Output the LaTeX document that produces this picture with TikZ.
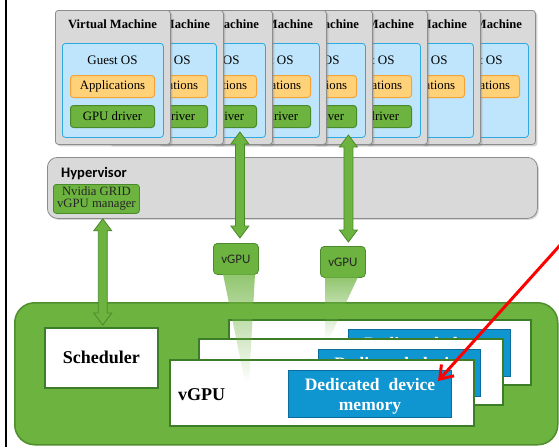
\documentclass[tikz,border=0pt]{standalone}
\usepackage{fontspec}
\setmainfont{Liberation Serif}
\newfontfamily\califont{Carlito}
\usetikzlibrary{shadows,fadings,arrows.meta,calc}
\definecolor{vmgray}{HTML}{D9D9D9}
\definecolor{vmborder}{HTML}{8C8C8C}
\definecolor{osblue}{HTML}{BEE5FB}
\definecolor{osborder}{HTML}{2EA8E0}
\definecolor{appfill}{HTML}{FFD27A}
\definecolor{appborder}{HTML}{F5A236}
\definecolor{grfill}{HTML}{6DB33F}
\definecolor{grborder}{HTML}{4B8A2B}
\definecolor{bigborder}{HTML}{4E8E2D}
\definecolor{stackborder}{HTML}{3E7D27}
\definecolor{memfill}{HTML}{0F95D0}
\definecolor{memborder}{HTML}{0C6C9C}
\tikzfading[name=beamfade, top color=transparent!25, bottom color=transparent!100]
\newcommand\vdarrow[5]{%
\draw[garrow] let \p1=(#1), \p2=(#2) in
 (\x2+#3, \y1-#4) -- (\x2+#3+9pt, \y1-#4-12pt) -- (\x2+#3+4.5pt, \y1-#4-12pt)
 -- (\x2+#3+4.5pt, \y2+#5+12pt) -- (\x2+#3+9pt, \y2+#5+12pt) -- (\x2+#3, \y2+#5)
 -- (\x2+#3-9pt, \y2+#5+12pt) -- (\x2+#3-4.5pt, \y2+#5+12pt)
 -- (\x2+#3-4.5pt, \y1-#4-12pt) -- (\x2+#3-9pt, \y1-#4-12pt) -- cycle;}
\begin{document}
\begin{tikzpicture}[x=1pt,y=-1pt,
  nw/.style={anchor=north west, inner sep=0pt},
  vmbox/.style={nw, draw=vmborder, fill=vmgray, rounded corners=3pt, line width=0.8pt,
    minimum width=115pt, minimum height=134pt,
    drop shadow={shadow xshift=2pt,shadow yshift=-2pt,opacity=0.35}},
  vmtitle/.style={anchor=base, inner sep=0pt, font=\bfseries\fontsize{12.6}{14}\selectfont},
  gostxt/.style={anchor=base, inner sep=0pt, font=\fontsize{13}{14}\selectfont},
  osbox/.style={nw, draw=osborder, fill=osblue, rounded corners=3pt, line width=0.8pt,
    minimum width=101pt, minimum height=94pt},
  appbox/.style={nw, draw=appborder, fill=appfill, rounded corners=3pt, line width=1pt,
    minimum width=84pt, minimum height=22pt, font=\fontsize{12.8}{14}\selectfont},
  drvbox/.style={nw, draw=grborder, fill=grfill, rounded corners=3pt, line width=1pt,
    minimum width=84pt, minimum height=22pt, font=\fontsize{12.8}{14}\selectfont},
  hypbox/.style={nw, draw=vmborder, fill=vmgray, rounded corners=10pt, line width=0.8pt,
    minimum width=490pt, minimum height=61pt,
    drop shadow={shadow xshift=1.5pt,shadow yshift=-1.5pt,opacity=0.3}},
  mgrbox/.style={nw, draw=grborder, fill=grfill, rounded corners=3pt, line width=0.8pt,
    minimum width=86pt, minimum height=29pt},
  vgbox/.style={nw, draw=grborder, fill=grfill, rounded corners=4pt, line width=0.8pt,
    minimum width=45pt, minimum height=31pt, text=black!85,
    font=\califont\fontsize{13}{14}\selectfont},
  bigbox/.style={nw, draw=bigborder, fill=grfill, rounded corners=20pt, line width=1.5pt,
    minimum width=543pt, minimum height=142pt},
  schedbox/.style={nw, draw=stackborder, fill=white, line width=1.5pt,
    minimum width=113pt, minimum height=60pt, font=\bfseries\fontsize{18}{20}\selectfont},
  stackbox/.style={nw, draw=stackborder, fill=white, line width=1.5pt},
  membox/.style={nw, draw=memborder, fill=memfill, line width=1pt,
    minimum width=162pt, minimum height=47pt},
  memtext/.style={inner sep=0pt, align=center, text=white,
    font=\bfseries\fontsize{17.5}{20}\selectfont},
  garrow/.style={fill=grfill, draw=grborder, line width=0.8pt, line join=miter},
  redarrow/.style={draw=red, line width=3pt, -{Straight Barb[length=12pt,width=17pt]}}
]
\useasboundingbox (0,0) rectangle (559,447);
\fill[white] (0,0) rectangle (559,447);
\draw[line width=2pt] (6,0) -- (6,447);

% virtual machines, right to left so the left one is on top
\foreach \i/\l/\d in {8/420/0,7/365/0,6/312/1,5/257/1,4/211/1,3/157/1,2/108/1,1/55/1}{
  \node[vmbox] (vm\i) at (\l,10) {};
  \node[vmtitle] (vmt\i) at (\l+57.5,28.3) {Virtual Machine};
  \node[osbox] (os\i) at (\l+7,43) {};
  \node[gostxt] (gos\i) at (\l+57.5,64) {Guest OS};
  \node[appbox] (app\i) at (\l+15,75) {Applications};
  \ifnum\d=1 \node[drvbox] (drv\i) at (\l+15,105) {GPU driver};\fi
}

% hypervisor
\node[hypbox] (hyp) at (47,157) {};
\node[anchor=base west, inner sep=0pt, font=\califont\bfseries\fontsize{14.5}{16}\selectfont]
  (hyptxt) at (61,177) {Hypervisor};
\node[mgrbox] (mgr) at (53,184) {};
\node[inner sep=0pt, align=center, text=black!85, font=\fontsize{12.7}{11.3}\selectfont]
  (mgrtxt) at ([yshift=0.5pt]mgr.center) {Nvidia GRID\\vGPU manager};

% vGPU boxes
\node[vgbox] (vgpu1) at (213,243) {vGPU};
\node[vgbox] (vgpu2) at (320,246) {vGPU};

% physical GPU
\node[bigbox] (gpu) at (14,302) {};
\node[schedbox] (sched) at (44,327) {Scheduler};

\node[stackbox, minimum width=302pt, minimum height=65pt] (st3) at (228,319) {};
\node[membox] (mem3) at (348,329) {};
\node[memtext] (mt3) at ([yshift=-2pt]mem3.center) {Dedicated\hspace{9pt}device\\memory};
\node[stackbox, minimum width=304pt, minimum height=66pt] (st2) at (198,338) {};
\node[membox] (mem2) at (318,349) {};
\node[memtext] (mt2) at ([yshift=-2pt]mem2.center) {Dedicated\hspace{9pt}device\\memory};
\node[stackbox, minimum width=304pt, minimum height=66pt] (st1) at (169,359) {};
\node[membox, minimum width=163pt] (mem1) at (288,370) {};
\node[memtext] (mt1) at ([yshift=-2pt]mem1.center) {Dedicated\hspace{9pt}device\\memory};
\node[anchor=base west, inner sep=0pt, font=\bfseries\fontsize{18}{20}\selectfont]
  (vgputxt) at (178,400) {vGPU};

% light beams
\fill[grfill, path fading=beamfade] (223,274) -- (255,274) -- (249,382) -- (245,382) -- cycle;
\fill[grfill, path fading=beamfade] (325,277) -- (358,277) -- (329,339) -- (325,339) -- cycle;

% arrows
\vdarrow{drv3.south}{vgpu1.north}{4pt}{4pt}{5pt}
\vdarrow{drv5.south}{vgpu2.north}{5.5pt}{7pt}{4pt}
\vdarrow{mgr.south}{sched.north}{1.5pt}{5pt}{2pt}

\coordinate (redstart) at (562,243);
\draw[redarrow] (redstart) -- ([xshift=-14pt,yshift=-11pt]mem1.north east);
\end{tikzpicture}
\end{document}
